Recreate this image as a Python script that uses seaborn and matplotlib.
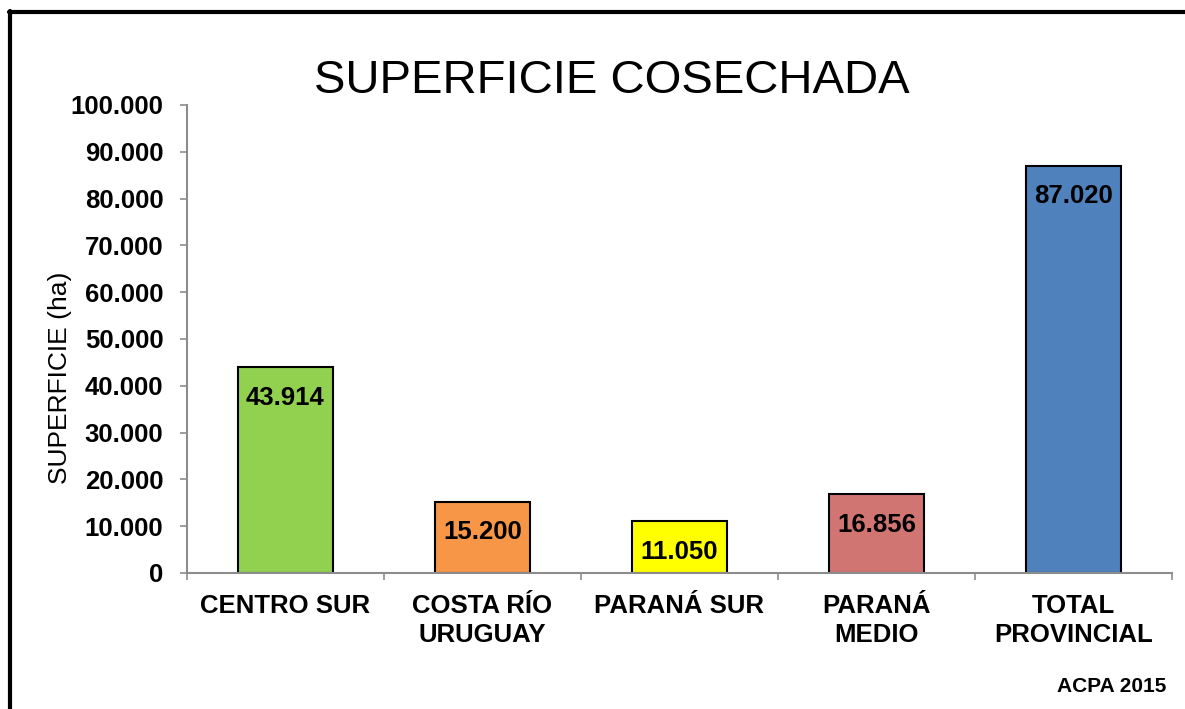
import numpy as np
import matplotlib
matplotlib.use("Agg")
import matplotlib.pyplot as plt
import seaborn as sns
from matplotlib.lines import Line2D
from matplotlib.ticker import FuncFormatter, FixedLocator

# data
regiones = ["CENTRO SUR", "COSTA RÍO\nURUGUAY", "PARANÁ SUR", "PARANÁ\nMEDIO", "TOTAL\nPROVINCIAL"]
superficie = [43914, 15200, 11050, 16856, 87020]
colores = ["#92D050", "#F79646", "#FFFF00", "#D07572", "#4F81BD"]
yticks = list(range(0, 100001, 10000))

sns.set_style("white")
plt.rcParams["font.family"] = ["Liberation Sans", "DejaVu Sans"]
plt.rcParams["text.color"] = "black"
plt.rcParams["axes.labelcolor"] = "black"
plt.rcParams["xtick.labelcolor"] = "black"
plt.rcParams["ytick.labelcolor"] = "black"

def miles(v, pos=None):
    return f"{int(v):,}".replace(",", ".")

fig = plt.figure(figsize=(11.85, 7.09), dpi=100)
ax = fig.add_axes([187 / 1185, 1 - 573 / 709, 985 / 1185, 468 / 709])

sns.barplot(x=regiones, y=superficie, hue=regiones, palette=colores, legend=False,
            edgecolor="black", linewidth=1.5, width=0.48, saturation=1, ax=ax)

ax.set_ylim(0, 100000)
ax.set_xlim(-0.5, len(regiones) - 0.5)
ax.set_yticks(yticks)
ax.yaxis.set_major_formatter(FuncFormatter(miles))

# bar values inside the top of each bar
for i, v in enumerate(superficie):
    ax.annotate(miles(v), (i, v), xytext=(0, -22), textcoords="offset points",
                ha="center", va="center", fontsize=18.5, fontweight="bold", color="black")

# axis styling
for s in ["top", "right"]:
    ax.spines[s].set_visible(False)
for s in ["left", "bottom"]:
    ax.spines[s].set_color("#8c8c8c")
    ax.spines[s].set_linewidth(1.5)

ax.tick_params(axis="y", length=5, width=1.2, color="#8c8c8c", pad=12,
               labelsize=18.5, left=True)
for lab in ax.get_yticklabels():
    lab.set_fontweight("bold")

ax.xaxis.set_minor_locator(FixedLocator(np.arange(-0.5, len(regiones), 1.0)))
ax.tick_params(axis="x", which="major", length=0, pad=15, labelsize=18.5)
ax.tick_params(axis="x", which="minor", length=5, width=1.2, color="#8c8c8c", bottom=True)
for lab in ax.get_xticklabels():
    lab.set_fontweight("bold")
    lab.set_linespacing(1.25)

ax.set_ylabel("SUPERFICIE (ha)", fontsize=19)
ax.yaxis.set_label_coords(-0.117, 0.417)

fig.text(612 / 1185, 1 - 81 / 709, "SUPERFICIE COSECHADA", fontsize=34,
         ha="center", va="center")
fig.text(1166 / 1185, 1 - 687 / 709, "ACPA 2015", fontsize=15, fontweight="bold",
         ha="right", va="center")

# outer frame (left and top edges)
fig.add_artist(Line2D([10 / 1185, 10 / 1185], [0, 1 - 11 / 709], transform=fig.transFigure,
                      color="black", linewidth=3))
fig.add_artist(Line2D([8.5 / 1185, 1], [1 - 11.5 / 709, 1 - 11.5 / 709], transform=fig.transFigure,
                      color="black", linewidth=3))

fig.savefig("out.png", dpi=100)
